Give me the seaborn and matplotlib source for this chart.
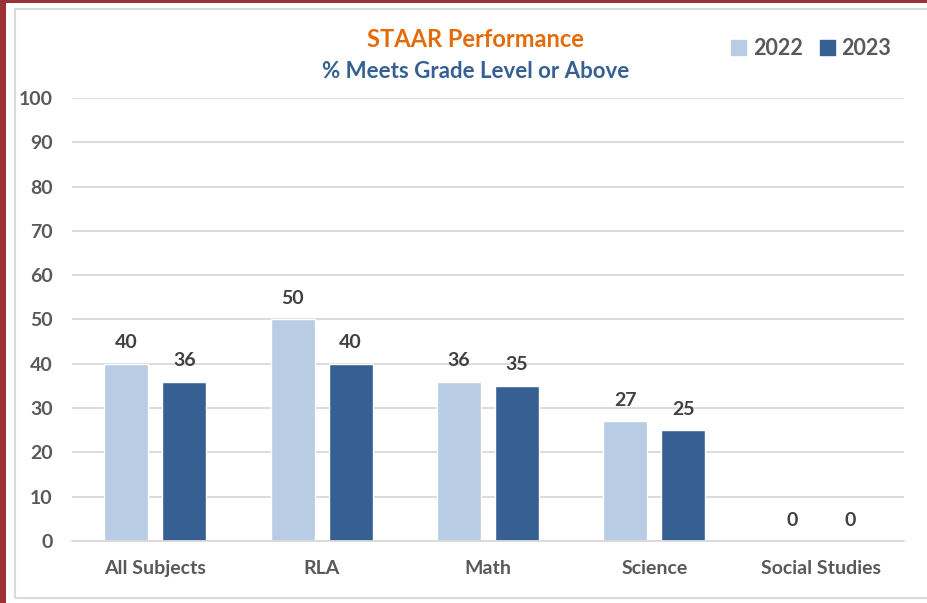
import numpy as np
import pandas as pd
import matplotlib.pyplot as plt
import matplotlib.patches as mpatches
import seaborn as sns

subjects = ["All Subjects", "RLA", "Math", "Science", "Social Studies"]
years = ["2022", "2023"]
vals_2022 = [40, 50, 36, 27, 0]
vals_2023 = [36, 40, 35, 25, 0]

colors = {"2022": "#B8CCE4", "2023": "#366092"}

df = pd.DataFrame({
    "subject": subjects * 2,
    "year": ["2022"] * len(subjects) + ["2023"] * len(subjects),
    "value": vals_2022 + vals_2023,
})

sns.set_style("white")
plt.rcParams["font.family"] = ["Lato", "DejaVu Sans"]

fig = plt.figure(figsize=(9.27, 6.03), dpi=100)
ax = fig.add_axes([0.0777, 0.1028, 0.8975, 0.7347])

sns.barplot(data=df, x="subject", y="value", hue="year", palette=colors,
            hue_order=years, order=subjects, width=0.697, gap=0.24,
            saturation=1, legend=False, ax=ax)

for cont in ax.containers:
    ax.bar_label(cont, labels=[f"{v:.0f}" for v in cont.datavalues],
                 padding=9, fontsize=14, fontweight="bold", color="#404040")

ax.set_ylim(0, 100)
ax.set_yticks(range(0, 101, 10))
ax.set_xlim(-0.5, 4.5)
ax.yaxis.grid(True, color="#D9D9D9", linewidth=1.3)
ax.set_axisbelow(True)
for s in ["top", "right", "left"]:
    ax.spines[s].set_visible(False)
ax.spines["bottom"].set_color("#D9D9D9")
ax.spines["bottom"].set_linewidth(1.3)
ax.set_xlabel("")
ax.set_ylabel("")
ax.tick_params(axis="both", length=0, colors="#595959", labelsize=14)
ax.tick_params(axis="x", pad=14)
ax.tick_params(axis="y", pad=14)
for lab in ax.get_xticklabels() + ax.get_yticklabels():
    lab.set_fontweight("bold")

# titles
fig.text(0.513, 0.935, "STAAR Performance", ha="center", va="center",
         fontsize=17, fontweight="bold", color="#E36C09")
fig.text(0.513, 0.882, "% Meets Grade Level or Above", ha="center", va="center",
         fontsize=16, fontweight="bold", color="#366092")

# legend
handles = [mpatches.Patch(color=colors[y], label=y) for y in years]
leg = fig.legend(handles=handles, loc="center", bbox_to_anchor=(0.875, 0.92),
                 ncol=2, frameon=False, handlelength=0.7, handleheight=0.7,
                 handletextpad=0.3, columnspacing=0.8, fontsize=15.5)
for t in leg.get_texts():
    t.set_color("#595959")
    t.set_fontweight("bold")

# frame and border
fig.patches.append(mpatches.Rectangle((15 / 927, 5 / 603), 1.2, 589 / 603,
                                      transform=fig.transFigure, fill=False,
                                      edgecolor="#D9D9D9", linewidth=1.5))
fig.patches.append(mpatches.Rectangle((0, 0), 6 / 927, 1, transform=fig.transFigure,
                                      color="#9B3234", linewidth=0))
fig.patches.append(mpatches.Rectangle((0, 1 - 3 / 603), 1, 3 / 603,
                                      transform=fig.transFigure,
                                      color="#9B3234", linewidth=0))

fig.savefig("out.png", dpi=100)
